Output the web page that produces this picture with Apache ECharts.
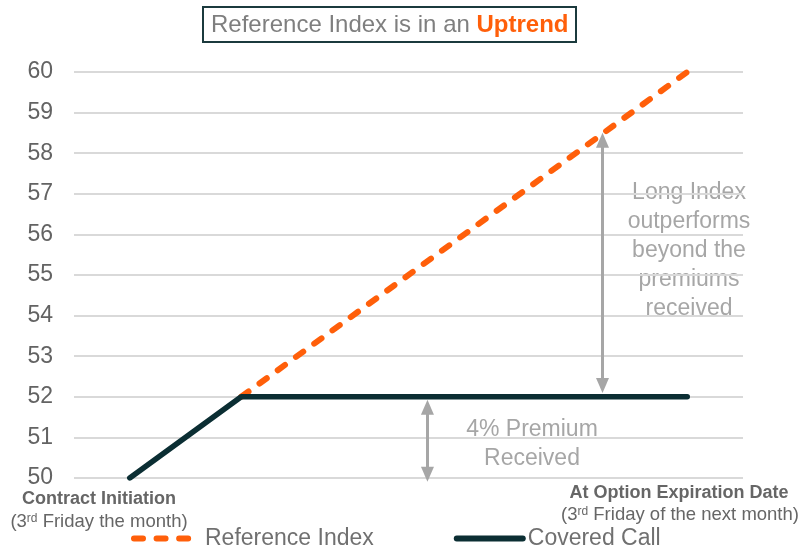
<!DOCTYPE html>
<html><head><meta charset="utf-8">
<script src="https://cdn.jsdelivr.net/npm/echarts@6/dist/echarts.min.js"></script>
<style>html,body{margin:0;padding:0;background:#fff}#c{width:805px;height:552px}</style>
</head><body><div id="c"></div>
<script>
// Data
const seriesNames = ['Reference Index', 'Covered Call'];
const referenceIndex = [[1, 52], [5, 60]];
const coveredCall = [[0, 50], [1, 52], [5, 52]];
const yTicks = [50, 51, 52, 53, 54, 55, 56, 57, 58, 59, 60];
const arrowOutperform = [[4.24, 52.28], [4.24, 58.32]];
const arrowPremium = [[2.67, 50.09], [2.67, 51.74]];

const FONT = "'Liberation Sans', Arial, sans-serif";
const ORANGE = '#ff5f0a';
const DARK = '#0b2e33';
const ANN = '#a6a6a6';

const chart = echarts.init(document.getElementById('c'), null, {renderer: 'canvas'});
const arrowLine = (pts) => ({
  silent: true,
  symbol: ['triangle', 'triangle'],
  symbolSize: [13, 15],
  lineStyle: {color: ANN, width: 3, type: 'solid'},
  itemStyle: {color: ANN},
  label: {show: false},
  emphasis: {disabled: true},
  data: [[{coord: pts[0]}, {coord: pts[1]}]]
});

chart.setOption({
  animation: false,
  textStyle: {fontFamily: FONT},
  title: {
    text: '{a|Reference Index is in an }{b|Uptrend}',
    left: 203, top: 7,
    padding: [6, 8, 5, 8],
    borderColor: '#1b3a3d', borderWidth: 2,
    textStyle: {
      fontWeight: 'normal',
      rich: {
        a: {fontSize: 24, color: '#7f7f7f', fontWeight: 'normal', fontFamily: FONT},
        b: {fontSize: 24, color: ORANGE, fontWeight: 'bold', fontFamily: FONT}
      }
    }
  },
  grid: {left: 74, right: 62, top: 72, bottom: 74},
  legend: {
    data: seriesNames.map(n => ({name: n, itemStyle: {opacity: 0}})),
    top: 522, left: 126,
    itemWidth: 66, itemHeight: 8, itemGap: 80,
    textStyle: {fontSize: 23, color: '#707070', fontFamily: FONT},
    lineStyle: {width: 6}
  },
  xAxis: {
    type: 'value', min: -0.5, max: 5.5,
    show: false
  },
  yAxis: {
    type: 'value', min: yTicks[0], max: yTicks[yTicks.length - 1], interval: 1,
    axisLine: {show: false}, axisTick: {show: false},
    axisLabel: {fontSize: 23, color: '#636363', margin: 21, fontFamily: FONT},
    splitLine: {lineStyle: {color: '#d9d9d9', width: 2}}
  },
  series: [
    {
      name: seriesNames[0], type: 'line', data: referenceIndex,
      symbol: 'none', z: 3,
      lineStyle: {color: ORANGE, width: 6, type: [9, 13.57], cap: 'round'},
      itemStyle: {color: ORANGE},
      markLine: arrowLine(arrowOutperform)
    },
    {
      name: seriesNames[1], type: 'line', data: coveredCall,
      symbol: 'none', z: 4,
      lineStyle: {color: DARK, width: 5.5, cap: 'round', join: 'round'},
      itemStyle: {color: DARK},
      markLine: arrowLine(arrowPremium)
    }
  ],
  graphic: [
    {type: 'text', x: 689, y: 178, style: {text: 'Long Index\noutperforms\nbeyond the\npremiums\nreceived', fill: ANN, font: '23px ' + FONT, align: 'center', verticalAlign: 'top', lineHeight: 29}},
    {type: 'text', x: 532, y: 415, style: {text: '4% Premium\nReceived', fill: ANN, font: '23px ' + FONT, align: 'center', verticalAlign: 'top', lineHeight: 29}},
    {type: 'text', x: 99, y: 499, style: {text: 'Contract Initiation', fill: '#666666', font: 'bold 18px ' + FONT, align: 'center', verticalAlign: 'middle'}},
    {type: 'text', x: 99, y: 522, style: {text: '(3{s|rd} Friday the month)', fill: '#666666', font: '18.5px ' + FONT, align: 'center', verticalAlign: 'middle', rich: {s: {fontSize: 12, verticalAlign: 'top', fill: '#666666', fontFamily: FONT, lineHeight: 14}}}},
    {type: 'text', x: 679, y: 493, style: {text: 'At Option Expiration Date', fill: '#666666', font: 'bold 18px ' + FONT, align: 'center', verticalAlign: 'middle'}},
    {type: 'text', x: 680, y: 515, style: {text: '(3{s|rd} Friday of the next month)', fill: '#666666', font: '18.5px ' + FONT, align: 'center', verticalAlign: 'middle', rich: {s: {fontSize: 12, verticalAlign: 'top', fill: '#666666', fontFamily: FONT, lineHeight: 14}}}}
  ]
});
</script>
</body></html>
